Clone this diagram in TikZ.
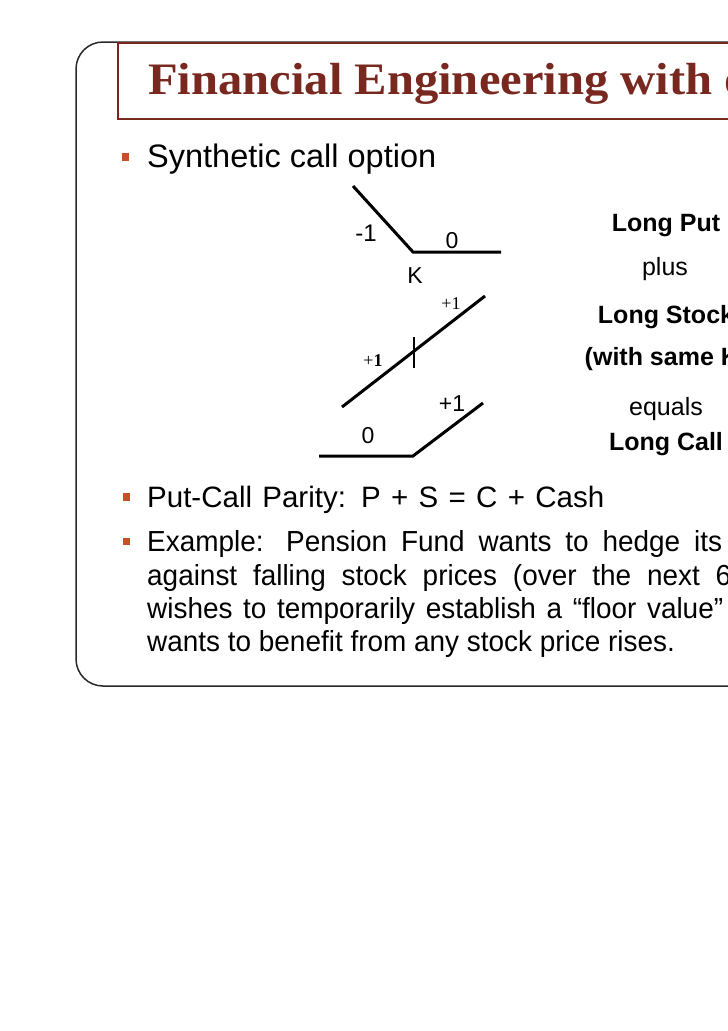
\documentclass[tikz,border=0pt]{standalone}
\usepackage{fontspec}
\setmainfont{Liberation Sans}
\newfontfamily\titlefont[FakeStretch=1.08]{Liberation Serif}
\newfontfamily\timesfont{Liberation Serif}
\newfontfamily\bodyfont[FakeStretch=0.963]{Liberation Sans}
\definecolor{titlered}{RGB}{120,40,30}
\definecolor{bulletred}{RGB}{200,80,40}
\definecolor{framegray}{RGB}{40,40,40}
\tikzset{
  payoff/.style={line width=3pt, black},
  tickline/.style={line width=1.6pt, black},
  bulletsq/.style={fill=bulletred, draw=none},
  lbl/.style={inner sep=0pt, anchor=center, font=\fontsize{23}{23}\selectfont},
  tlbl/.style={inner sep=0pt, anchor=center, font=\timesfont\fontsize{18}{18}\selectfont},
  side/.style={inner sep=0pt, anchor=base, font=\fontsize{25}{25}\selectfont},
  sidebold/.style={side, font=\bfseries\fontsize{25}{25}\selectfont},
  body/.style={inner sep=0pt, anchor=base west, font=\bodyfont\fontsize{29}{29}\selectfont}
}
\begin{document}
\begin{tikzpicture}[x=1pt, y=-1pt]
\useasboundingbox (0,0) rectangle (728,1031);
\clip (0,0) rectangle (728,1031);
% outer frame
\draw[framegray, line width=1.5pt, rounded corners=27pt] (760,42) -- (76,42) -- (76,686) -- (760,686);
% title box
\draw[titlered, line width=1.3pt] (118,43) rectangle (760,119);
\node[inner sep=0pt, anchor=base west, text=titlered, font=\titlefont\bfseries\fontsize{45}{45}\selectfont] (title) at (148,94) {Financial Engineering with o};
% bullet 1
\fill[bulletsq] (122,153) rectangle (129,161);
\node[inner sep=0pt, anchor=base west, font=\fontsize{32.5}{32.5}\selectfont] (b1) at (147,167) {Synthetic call option};
% long put payoff
\coordinate (p1) at (353,186);
\coordinate (pk) at (413,252);
\coordinate (p2) at (501,252);
\draw[payoff] (p1) -- (pk) -- (p2);
\node[lbl, font=\fontsize{24}{24}\selectfont] (pm1) at (366,233) {-1};
\node[lbl] (p0) at (452,241) {0};
\node[lbl] (K) at (415,276) {K};
% long stock payoff
\coordinate (s1) at (342,407);
\coordinate (s2) at (485,296);
\draw[payoff] (s1) -- (s2);
\coordinate (t1) at (414,337);
\coordinate (t2) at (414,368);
\draw[tickline] (t1) -- (t2);
\node[tlbl] (su) at (451,304) {+1};
\node[tlbl] (sl) at (373,361) {+\textbf{1}};
% long call payoff
\coordinate (c1) at (319,456);
\coordinate (ck) at (413,456);
\coordinate (c2) at (483,403);
\draw[payoff] (c1) -- (ck) -- (c2);
\node[lbl] (cp1) at (452,404) {+1};
\node[lbl] (c0) at (368,436) {0};
% right column
\node[sidebold] (r1) at (666,231) {Long Put};
\node[side] (r2) at (665,275) {plus};
\node[sidebold] (r3) at (666,323) {Long Stock};
\node[sidebold] (r4) at (666,365) {(with same K)};
\node[side] (r5) at (666,415) {equals};
\node[sidebold] (r6) at (666,450) {Long Call};
% bullet 2
\fill[bulletsq] (123,493) rectangle (130,501);
\node[body, font=\fontsize{29.5}{29.5}\selectfont] (b2) at (147,507) {\makebox[457pt][s]{Put-Call Parity: P + S = C + Cash}};
% bullet 3
\fill[bulletsq] (123,538) rectangle (130,545);
\node[body] (l1) at (147,551) {\makebox[575pt][s]{Example: Pension Fund wants to hedge its}};
\node[body] (l2) at (147,585) {\makebox[584pt][s]{against falling stock prices (over the next 6}};
\node[body] (l3) at (147,618) {\makebox[576pt][s]{wishes to temporarily establish a “floor value”}};
\node[body] (l4) at (147,651) {wants to benefit from any stock price rises.};
\end{tikzpicture}
\end{document}
